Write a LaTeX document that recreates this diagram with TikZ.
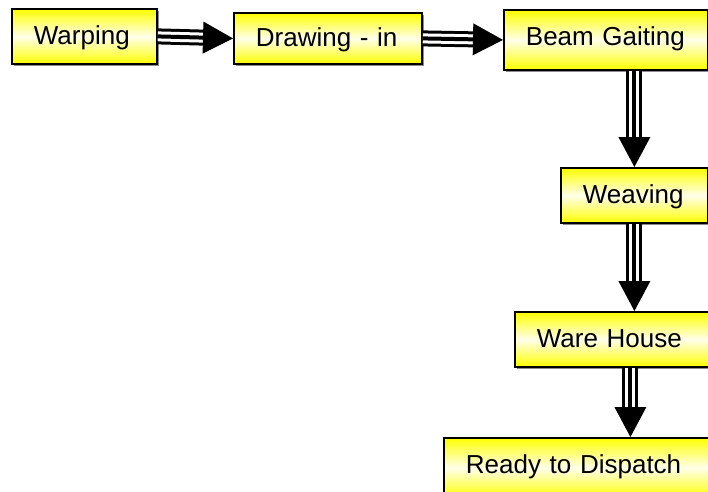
\documentclass[tikz,border=0pt]{standalone}
\usepackage{fontspec}
\setmainfont{Liberation Sans}
\usetikzlibrary{calc,shadows}
\newcommand\fflow[2]{%
  \coordinate (fb) at ($(#2)!30pt!(#1)$);
  \draw[line width=16pt,black] (#1) -- (fb);
  \draw[line width=10pt,white] (#1) -- (fb);
  \draw[line width=4pt,black] (#1) -- (fb);
  \fill[black] ($(fb)!16pt!90:(#2)$) -- (#2) -- ($(fb)!16pt!-90:(#2)$) -- cycle;
}
\tikzset{
  stepbox/.style={draw=black, line width=1.8pt, anchor=north west,
    top color=yellow, bottom color=yellow, middle color=yellow!8,
    drop shadow={shadow xshift=2pt, shadow yshift=-2pt, fill=black!45, opacity=1},
    inner xsep=22pt, inner ysep=0pt, align=left,
    text height=17pt, text depth=0pt,
    font=\fontsize{26pt}{30pt}\selectfont},
}
\begin{document}
\begin{tikzpicture}[x=1pt,y=1pt]
  \useasboundingbox (0,0) rectangle (708,-491);
  \fill[white] (0,0) rectangle (708,-491);
  \clip (0,0) rectangle (708,-491);

  \node[stepbox, minimum width=145pt, minimum height=55pt, text width=101pt] (Warping) at (11,-8) {Warping};
  \node[stepbox, minimum width=188pt, minimum height=51pt, text width=144pt] (Drawing) at (233,-12) {Drawing - in};
  \node[stepbox, minimum width=204pt, minimum height=60pt, text width=160pt, text depth=5pt] (Beam) at (503,-9) {Beam Gaiting};
  \node[stepbox, minimum width=147pt, minimum height=55pt, text width=103pt] (Weaving) at (560,-167) {Weaving};
  \node[stepbox, minimum width=230pt, minimum height=55pt, text width=186pt, text depth=1pt] (Ware) at (514,-311) {Ware House};
  \node[stepbox, minimum width=300pt, minimum height=60pt, text width=256pt, text depth=6pt] (Ready) at (443,-437) {Ready to Dispatch};

  \coordinate (s3) at (Beam.south -| Weaving.north);
  \coordinate (e4) at (Weaving.south |- Ware.north);
  \coordinate (s5) at ($(Ware.south -| Weaving.south)+(-4,0)$);
  \coordinate (e5) at ($(Ready.north -| Weaving.south)+(-4,0)$);

  \fflow{Warping.east}{Drawing.west}
  \fflow{Drawing.east}{Beam.west}
  \fflow{s3}{Weaving.north}
  \fflow{Weaving.south}{e4}
  \fflow{s5}{e5}
\end{tikzpicture}
\end{document}
